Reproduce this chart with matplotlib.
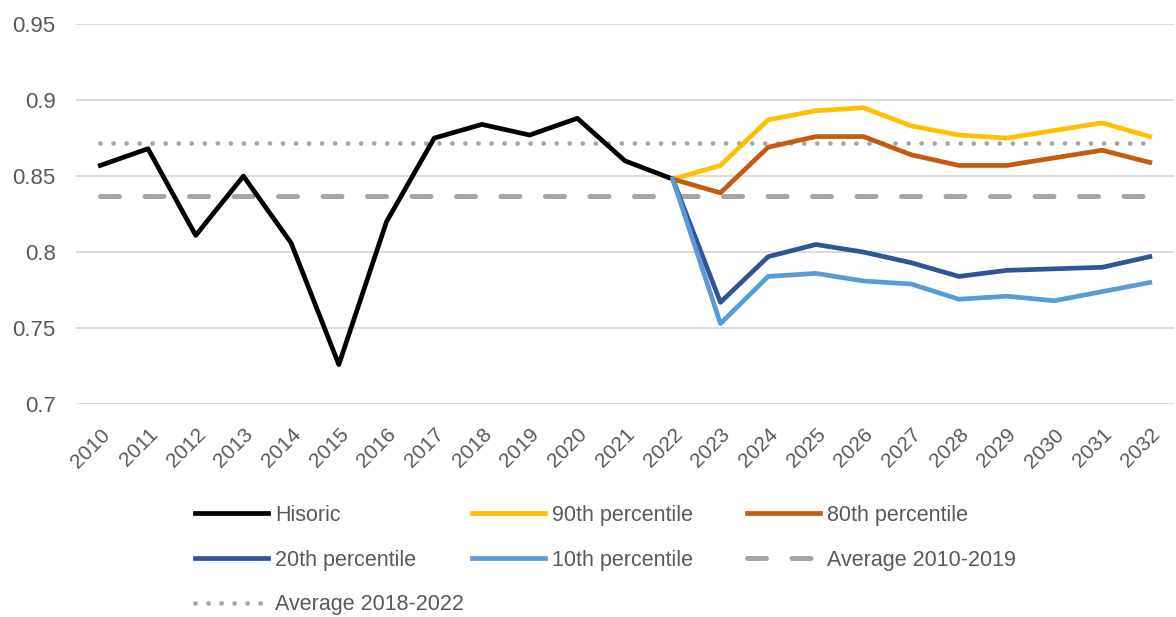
import numpy as np
import matplotlib as mpl
mpl.use('Agg')
import matplotlib.pyplot as plt
from matplotlib.legend import Legend

plt.rc('font', family='Liberation Sans')

# ---- data ---------------------------------------------------------------
years = list(range(2010, 2033))
hist_years = list(range(2010, 2023))
fc_years = list(range(2022, 2033))

historic = [0.857, 0.868, 0.811, 0.850, 0.806, 0.726, 0.820, 0.875,
            0.884, 0.877, 0.888, 0.860, 0.848]
p90 = [0.848, 0.857, 0.887, 0.893, 0.895, 0.883, 0.877, 0.875, 0.880, 0.885, 0.876]
p80 = [0.848, 0.839, 0.869, 0.876, 0.876, 0.864, 0.857, 0.857, 0.862, 0.867, 0.859]
p20 = [0.848, 0.767, 0.797, 0.805, 0.800, 0.793, 0.784, 0.788, 0.789, 0.790, 0.797]
p10 = [0.848, 0.753, 0.784, 0.786, 0.781, 0.779, 0.769, 0.771, 0.768, 0.774, 0.780]
avg_2010_2019 = 0.837
avg_2018_2022 = 0.872

yticks = [0.7, 0.75, 0.8, 0.85, 0.9, 0.95]
ytick_labels = ['0.7', '0.75', '0.8', '0.85', '0.9', '0.95']

# ---- styles -------------------------------------------------------------
c_text = '#595959'
c_grid = '#D9D9D9'
c_avg = '#A5A5A5'
lw = 3.4

fig = plt.figure(figsize=(11.76, 6.17), dpi=100)
ax = fig.add_axes([0.065, 0.345, 0.933, 0.616])

l_avg1, = ax.plot(years, [avg_2010_2019] * len(years), color=c_avg, lw=3.6,
                  linestyle=(0, (3.8, 5.1)), dash_capstyle='round', zorder=2)
l_avg2, = ax.plot(years, [avg_2018_2022] * len(years), color=c_avg, lw=3.4,
                  linestyle=(0, (0.01, 2.75)), dash_capstyle='round', zorder=2)
l_hist, = ax.plot(hist_years, historic, color='black', lw=lw, zorder=3)
l_90, = ax.plot(fc_years, p90, color='#FFC000', lw=lw, zorder=3)
l_80, = ax.plot(fc_years, p80, color='#C55A11', lw=lw, zorder=3)
l_20, = ax.plot(fc_years, p20, color='#2F5597', lw=lw, zorder=3)
l_10, = ax.plot(fc_years, p10, color='#5B9BD5', lw=lw, zorder=4)

ax.set_xlim(2009.5, 2032.5)
ax.set_ylim(0.7, 0.95)
ax.set_yticks(yticks)
ax.set_yticklabels(ytick_labels)
ax.set_xticks(years)
ax.set_xticklabels([str(y) for y in years], rotation=45, ha='right',
                   rotation_mode='anchor')
ax.tick_params(axis='both', length=0, colors=c_text)
ax.tick_params(axis='x', pad=15, labelsize=15)
ax.tick_params(axis='y', pad=15, labelsize=16)
for s in ax.spines.values():
    s.set_visible(False)
ax.yaxis.grid(True, color=c_grid, lw=1.3)
ax.set_axisbelow(True)

# legend: three separate columns so each starts where the original does
columns = [
    ([l_hist, l_20, l_avg2], ['Hisoric', '20th percentile', 'Average 2018-2022'], 195),
    ([l_90, l_10], ['90th percentile', '10th percentile'], 472),
    ([l_80, l_avg1], ['80th percentile', 'Average 2010-2019'], 747),
]
for hs, labs, xpix in columns:
    leg = Legend(fig, hs, labs, loc='upper left',
                 bbox_to_anchor=(xpix / 1176, 1 - 505 / 617),
                 bbox_transform=fig.transFigure, frameon=False,
                 fontsize=15.5, handlelength=3.4, handletextpad=0.33,
                 labelspacing=1.1, borderpad=0, borderaxespad=0)
    for t in leg.get_texts():
        t.set_color(c_text)
    fig.legends.append(leg)

fig.savefig('out.png', dpi=100)
